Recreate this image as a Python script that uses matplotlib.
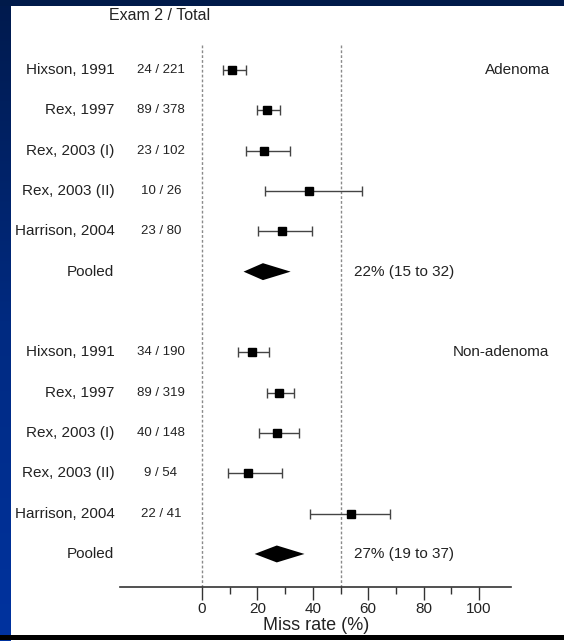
import numpy as np
import matplotlib
matplotlib.use("Agg")
import matplotlib.pyplot as plt
from matplotlib.patches import Rectangle

plt.rcParams['font.family'] = ['Liberation Sans', 'DejaVu Sans']

# Data
studies = ['Hixson, 1991', 'Rex, 1997', 'Rex, 2003 (I)', 'Rex, 2003 (II)', 'Harrison, 2004']

aden_missed = [24, 89, 23, 10, 23]
aden_total = [221, 378, 102, 26, 80]
aden_est = [10.9, 23.5, 22.5, 38.5, 28.8]
aden_lo = [7.5, 19.7, 15.8, 22.9, 20.3]
aden_hi = [15.9, 28.2, 31.8, 57.6, 39.6]
aden_pooled = [22, 15, 32]

non_missed = [34, 89, 40, 9, 22]
non_total = [190, 319, 148, 54, 41]
non_est = [17.9, 27.9, 27.0, 16.7, 53.7]
non_lo = [13.1, 23.4, 20.7, 9.3, 38.9]
non_hi = [24.3, 33.3, 34.9, 28.8, 67.9]
non_pooled = [27, 19, 37]

groups = ['Adenoma', 'Non-adenoma']
xticks = [0, 20, 40, 60, 80, 100]
minor_xticks = [10, 30, 50, 70, 90]

W, H = 564, 641
fig = plt.figure(figsize=(W / 100, H / 100), dpi=100)
fig.patch.set_facecolor('white')

# background: navy top band and blue gradient stripe on the left
bg = fig.add_axes([0, 0, 1, 1], zorder=-1)
bg.set_xlim(0, W)
bg.set_ylim(H, 0)
bg.axis('off')
grad = np.linspace(0, 1, 256).reshape(-1, 1)
cmap = matplotlib.colors.LinearSegmentedColormap.from_list('stripe', ['#001a4d', '#002a80', '#0033a0'])
bg.imshow(grad, cmap=cmap, extent=(0, 11, H, 0), aspect='auto')
bg.add_patch(Rectangle((0, 0), W, 6, color='#001a4a', lw=0))

# main axes: pixel layout mapping (0 -> x=202px, 100 -> x=479px, rows 40.33px apart)
px_per_unit = 2.77
x0_px = 202
row_px = 40.33
row0_px = 70
top_px, bot_px, left_px = 6, 635, 11

ax = fig.add_axes([left_px / W, (H - bot_px) / H, (W - left_px) / W, (bot_px - top_px) / H])
ax.set_xlim((left_px - x0_px) / px_per_unit, (W - x0_px) / px_per_unit)
ax.set_ylim((bot_px - row0_px) / row_px, (top_px - row0_px) / row_px)
ax.patch.set_visible(False)

def xd(px):
    return (px - x0_px) / px_per_unit

def yd(px):
    return (px - row0_px) / row_px

axis_row = yd(587)
txt = '#222222'

sets = [
    (aden_missed, aden_total, aden_est, aden_lo, aden_hi, aden_pooled, 0),
    (non_missed, non_total, non_est, non_lo, non_hi, non_pooled, 7),
]

for gi, (missed, total, est, lo, hi, pooled, start) in enumerate(sets):
    rows = np.arange(len(studies)) + start
    est = np.array(est)
    xerr = [est - np.array(lo), np.array(hi) - est]
    ax.errorbar(est, rows, xerr=xerr, fmt='s', color='black', ms=6,
                ecolor='#444444', elinewidth=1, capsize=3.3, capthick=1, zorder=3)
    for r, name, m, t in zip(rows, studies, missed, total):
        ax.text(xd(114.5), r, name, ha='right', va='center', fontsize=11, color=txt)
        ax.text(xd(161), r, f'{m} / {t}', ha='center', va='center', fontsize=9.5, color=txt)
    prow = start + len(studies)
    p, plo, phi = pooled
    h = 0.21
    ax.fill([plo, p, phi, p], [prow, prow - h, prow, prow + h], color='black', lw=0, zorder=3)
    ax.text(xd(114.5), prow, 'Pooled', ha='right', va='center', fontsize=11, color=txt)
    ax.text(xd(354), prow, f'{p}% ({plo} to {phi})', ha='left', va='center', fontsize=11, color=txt)

ax.text(xd(518), 0, groups[0], ha='center', va='center', fontsize=11, color=txt)
ax.text(xd(453), 7, groups[1], ha='left', va='center', fontsize=11, color=txt)
ax.text(xd(160), yd(16), 'Exam 2 / Total', ha='center', va='center', fontsize=11.5, color=txt)

# reference lines at 0 and 50
ax.vlines([0, 50], yd(45), axis_row, colors='#8a8a8a', linestyles=(0, (2, 1.5)), lw=1, zorder=1)

# x axis
for s in ['top', 'left', 'right']:
    ax.spines[s].set_visible(False)
ax.spines['bottom'].set_position(('data', axis_row))
ax.spines['bottom'].set_bounds(xd(120), xd(511))
ax.spines['bottom'].set_color('#333333')
ax.spines['bottom'].set_linewidth(1.2)
ax.set_yticks([])
ax.set_xticks(xticks)
ax.set_xticks(minor_xticks, minor=True)
ax.tick_params(axis='x', which='major', length=9, width=1, color='#333333',
               labelsize=11, labelcolor=txt, pad=2)
ax.tick_params(axis='x', which='minor', length=5, width=1, color='#333333')

# axis title sits just above the black bottom line
ax.text(xd(316), yd(634.5), 'Miss rate (%)', ha='center', va='bottom', fontsize=13, color=txt)

# black line at the bottom edge
fig.add_artist(Rectangle((0, (H - 639.5) / H), 1, 4.5 / H, transform=fig.transFigure,
                         color='black', lw=0, zorder=10))

plt.savefig('out.png', dpi=100)
